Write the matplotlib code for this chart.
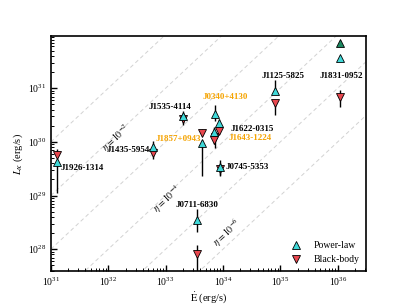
import numpy as np
import matplotlib
matplotlib.use("Agg")
import matplotlib.pyplot as plt
from matplotlib.lines import Line2D

plt.rcParams['font.family'] = ['Liberation Serif', 'DejaVu Serif']
plt.rcParams['mathtext.fontset'] = 'stix'

# pulsars (spin-down power in erg/s, X-ray luminosity in erg/s)
names = ['J1926-1314', 'J1435-5954', 'J1535-4114', 'J1857+0943', 'J0340+4130',
         'J1622-0315', 'J1643-1224', 'J0745-5353', 'J0711-6830', 'J1125-5825',
         'J1831-0952']
edot = [1.27e31, 6.0e32, 2.0e33, 4.3e33, 7.3e33,
        8.6e33, 7.1e33, 8.7e33, 3.5e33, 8.0e34,
        1.1e36]
# power-law luminosity and its lower / upper bound
L_pl = [4.2e29, 8.0e29, 3.0e30, 9.4e29, 3.3e30,
        2.2e30, 1.5e30, 3.4e29, 3.5e28, 8.8e30,
        3.6e31]
L_pl_lo = [1.1e29, 7.4e29, 2.2e30, 2.3e29, 2.4e30,
           1.8e30, 1.2e30, 2.4e29, 2.1e28, 8.8e30,
           3.6e31]
L_pl_hi = [4.6e29, 1.05e30, 3.7e30, 1.1e30, 4.9e30,
           2.7e30, 1.9e30, 4.5e29, 5.7e28, 1.4e31,
           3.6e31]
# black-body luminosity and its lower / upper bound
L_bb = [5.6e29, 6.3e29, 2.7e30, 1.45e30, 1.25e30,
        1.6e30, 1.1e30, 3.1e29, 8.3e27, 5.3e30,
        6.8e30]
L_bb_lo = [5.2e29, 4.8e29, 2.1e30, 1.3e30, 7.6e29,
           1.4e30, 0.9e30, 2.3e29, 3.0e27, 3.2e30,
           4.4e30]
L_bb_hi = [7.3e29, 6.8e29, 3.4e30, 1.75e30, 1.5e30,
           1.9e30, 1.35e30, 4.0e29, 1.2e28, 5.3e30,
           9.2e30]
# extra point for J1831-0952
edot_extra = [1.1e36]
L_extra = [6.9e31]

orange_names = ['J1857+0943', 'J0340+4130', 'J1643-1224']
etas = [1e-1, 1e-2, 1e-3, 1e-4, 1e-5, 1e-6]

# label placement (offset in points from the power-law marker, alignment)
label_pos = {
    'J1926-1314': ((3, -4), 'left'),
    'J1435-5954': ((-2, -2), 'right'),
    'J1535-4114': ((-9, 7), 'center'),
    'J1857+0943': ((-1, 3), 'right'),
    'J0340+4130': ((7, 12), 'center'),
    'J1622-0315': ((8, -4), 'left'),
    'J1643-1224': ((10, -4), 'left'),
    'J0745-5353': ((4, 0), 'left'),
    'J0711-6830': ((0, 11), 'center'),
    'J1125-5825': ((6, 11), 'center'),
    'J1831-0952': ((1, -13), 'center'),
}

c_pl = '#3fd8d8'
c_bb = '#e8474e'
c_extra = '#1b8760'

fig = plt.figure(figsize=(4.07, 3.05), dpi=100)
ax = fig.add_axes([0.125, 0.111, 0.774, 0.771])

xlo, xhi = 1e31, 3.1e36
ylo, yhi = 3.9e27, 9.4e31

xx = np.array([xlo, xhi])
for eta in etas:
    ax.plot(xx, eta * xx, ls=(0, (4, 3)), color='#d2d2d2', lw=0.7, zorder=0)

ax.text(1.4e32, 1.2e30, r'$\eta = 10^{-2}$', rotation=43, fontsize=7,
        ha='center', va='center')
ax.text(1.05e33, 8.7e28, r'$\eta = 10^{-4}$', rotation=43, fontsize=7,
        ha='center', va='center')
ax.text(1.2e34, 2.0e28, r'$\eta = 10^{-6}$', rotation=43, fontsize=7,
        ha='center', va='center')

edot = np.array(edot)
L_pl, L_pl_lo, L_pl_hi = np.array(L_pl), np.array(L_pl_lo), np.array(L_pl_hi)
L_bb, L_bb_lo, L_bb_hi = np.array(L_bb), np.array(L_bb_lo), np.array(L_bb_hi)

ax.errorbar(edot, L_pl, yerr=[L_pl - L_pl_lo, L_pl_hi - L_pl], fmt='none',
            ecolor='k', elinewidth=1, capsize=0, zorder=2)
ax.errorbar(edot, L_bb, yerr=[L_bb - L_bb_lo, L_bb_hi - L_bb], fmt='none',
            ecolor='k', elinewidth=1, capsize=0, zorder=2)

ms = 5.5
ax.plot(edot, L_bb, 'v', ms=ms, mfc=c_bb, mec='k', mew=0.6, ls='none', zorder=3)
ax.plot(edot, L_pl, '^', ms=ms, mfc=c_pl, mec='k', mew=0.6, ls='none', zorder=4)
ax.plot(edot_extra, L_extra, '^', ms=ms, mfc=c_extra, mec='k', mew=0.6,
        ls='none', zorder=4)

for i, n in enumerate(names):
    off, ha = label_pos[n]
    col = '#f5a300' if n in orange_names else 'k'
    ax.annotate(n, (edot[i], L_pl[i]), xytext=off, textcoords='offset points',
                ha=ha, va='center', fontsize=6.5, fontweight='bold', color=col,
                zorder=1)

ax.set_xscale('log')
ax.set_yscale('log')
ax.set_xlim(xlo, xhi)
ax.set_ylim(ylo, yhi)
ax.set_xlabel(r'$\dot{\rm E}$ (erg/s)', fontsize=7.5, labelpad=1)
ax.set_ylabel(r'$L_X$ (erg/s)', fontsize=7.5, labelpad=2)
ax.tick_params(which='both', direction='in', top=False, right=False,
               labelsize=7)
ax.tick_params(which='major', length=4, width=1)
ax.tick_params(which='minor', length=2, width=0.7)
for s in ax.spines.values():
    s.set_linewidth(1.2)

handles = [
    Line2D([], [], marker='^', ls='none', ms=ms, mfc=c_pl, mec='k', mew=0.6),
    Line2D([], [], marker='v', ls='none', ms=ms, mfc=c_bb, mec='k', mew=0.6),
]
ax.legend(handles, ['Power-law', 'Black-body'], loc='lower right',
          frameon=False, fontsize=7, handletextpad=0.8, borderaxespad=0.3)

fig.savefig('out.png', dpi=100)
